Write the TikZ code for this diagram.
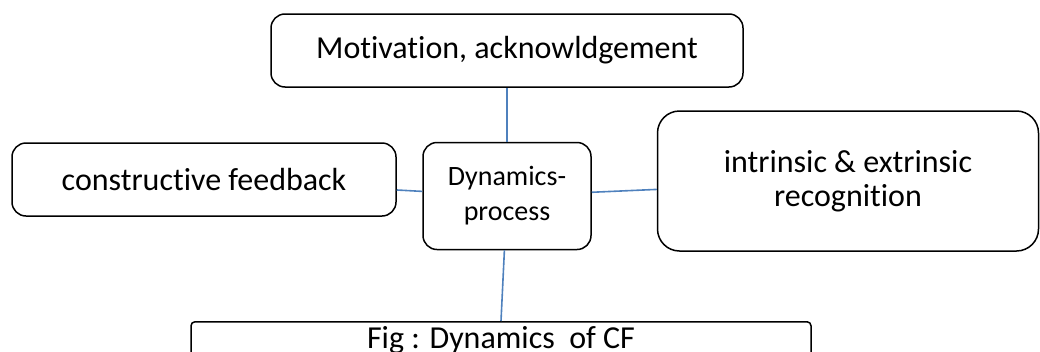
\documentclass[tikz,border=0pt]{standalone}
\usepackage{fontspec}
\setmainfont{Carlito}[Ligatures=NoCommon]
\usetikzlibrary{positioning}

\begin{document}
\begin{tikzpicture}[x=1pt,y=-1pt]

\tikzset{box/.style = {shape=rectangle,draw,line width=1.5pt,rounded corners=14pt,align=center,font=\fontsize{32}{38}\selectfont}}
\tikzset{edge/.style = {draw={rgb,255:red,79;green,129;blue,189},line width=1.6pt}}
\useasboundingbox (0,0) rectangle (1040,351);
\clip (0,0) rectangle (1040,351);
%boxes
\node[box, minimum width=472pt, minimum height=73pt] (1) at (507,50.5) {Motivation, acknowldgement};
\node[box, minimum width=384pt, minimum height=73pt] (2) at (204,179.5) {constructive feedback};
\node[box, minimum width=168pt, minimum height=107pt, font=\fontsize{28}{35}\selectfont] (3) at (507,196) {Dynamics-\\process};
\node[box, minimum width=381pt, minimum height=140pt, rounded corners=22pt, font=\fontsize{32}{34}\selectfont] (4) at (848,181) {intrinsic \& extrinsic\\recognition};
\node[box, minimum width=620pt, inner ysep=0pt, text height=27pt, text depth=40pt, rounded corners=4pt, anchor=north] (5) at (501,321) {Fig : Dynamics\ \ of CF};
%links
\draw [edge] (1) -- (3);
\draw [edge] (2) -- (3);
\draw [edge] (3) -- (4);
\draw [edge] (3) -- (5.north);

\end{tikzpicture}
\end{document}
